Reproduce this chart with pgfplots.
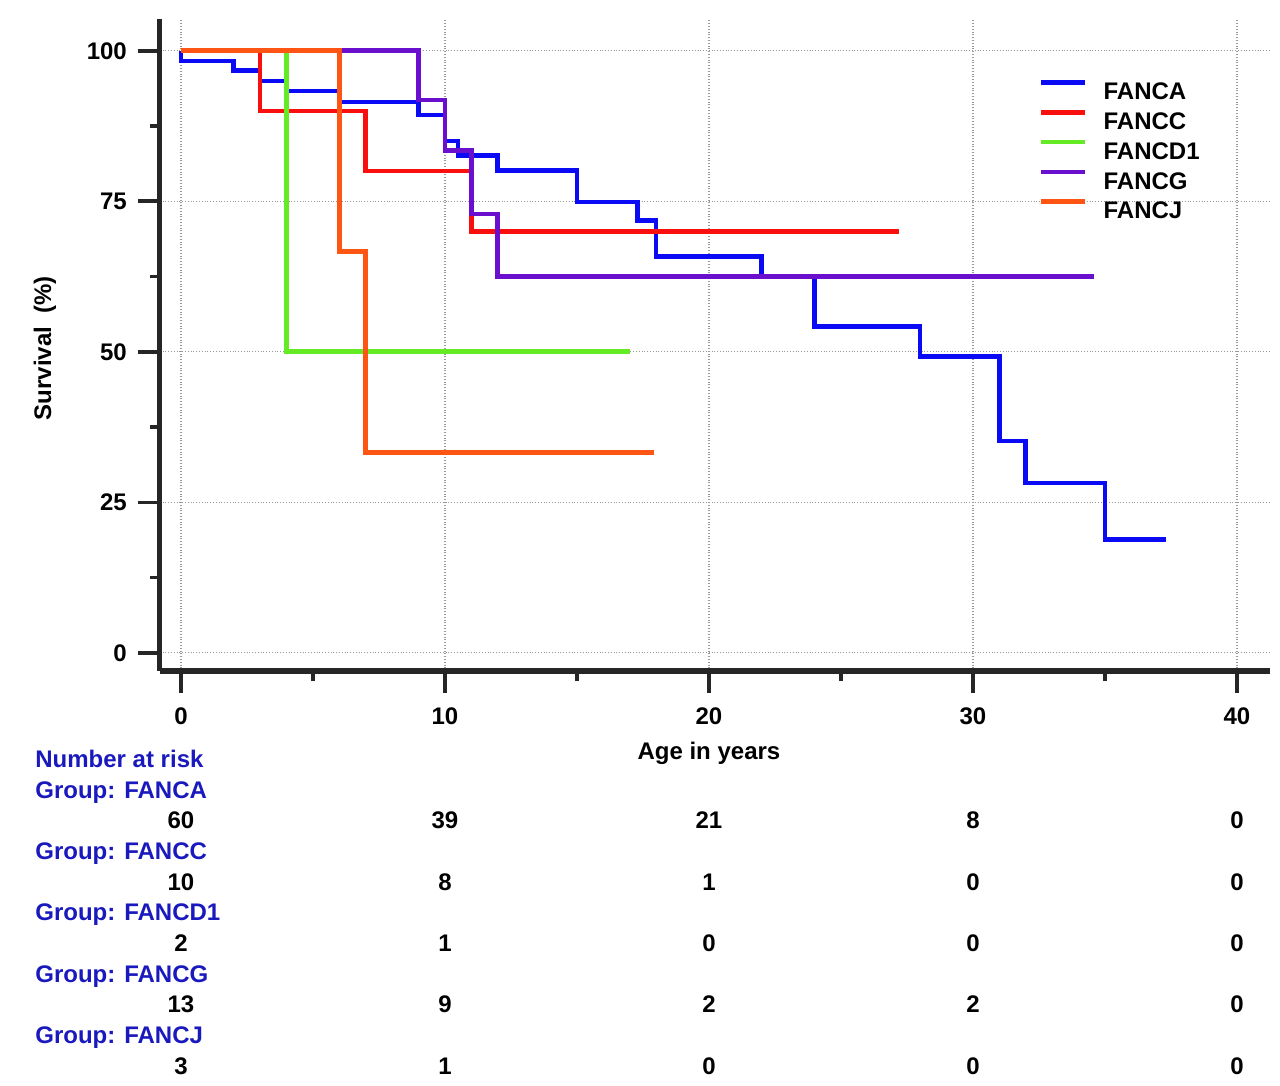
\documentclass[border=0pt]{standalone}
\usepackage{fontspec}
\setmainfont{Liberation Sans}
\usepackage{pgfplots}
\pgfplotsset{compat=1.18}

\definecolor{cA}{RGB}{10,10,245}
\definecolor{cC}{RGB}{250,15,15}
\definecolor{cD}{RGB}{100,235,35}
\definecolor{cG}{RGB}{105,15,205}
\definecolor{cJ}{RGB}{255,85,20}
\definecolor{hdr}{RGB}{25,25,190}
\newcommand{\lab}{\bfseries\fontsize{12}{14}\selectfont}

\begin{document}
\begin{tikzpicture}[font=\lab]
\begin{axis}[
  scale only axis, width=555pt, height=326pt,
  xmin=-0.8, xmax=41.25, ymin=-3, ymax=105.3,
  clip=false,
  axis x line*=bottom, axis y line*=left,
  axis line style={-, line width=2.6pt, black!85},
  xtick={0,10,20,30,40}, ytick={0,25,50,75,100},
  minor x tick num=1, minor y tick num=1,
  tick align=outside, major tick length=11pt, minor tick length=5pt,
  every tick/.style={line width=1.8pt, black!85},
  grid=major, major grid style={densely dotted, black!40, line width=0.6pt},
  /pgf/number format/assume math mode=true,
  tick label style={font=\lab},
  xticklabel style={yshift=-4pt},
  yticklabel style={xshift=-2pt},
  xlabel={Age in years},
  xlabel style={at={(axis description cs:0.4946,-0.127)}, anchor=center},
  ylabel={Survival\ \ (\%)},
  ylabel style={at={(axis description cs:-0.1036,0.495)}, anchor=center},
  legend style={at={(axis cs:32.5,95.1)}, anchor=north west, draw=none, fill=none,
    inner sep=0pt, outer sep=0pt, row sep=5.15pt, column sep=8pt,
    nodes={inner sep=0pt, text height=8.6pt, text depth=0pt}},
  legend cell align=left,
  legend image code/.code={\draw[#1] (0pt,4.3pt) -- (22pt,4.3pt);},
  every axis plot/.append style={line width=2.3pt, const plot},
]
\addplot[cA] coordinates {(0,100) (0,98.33) (2,96.67) (3,95) (4,93.33) (6,91.5) (9,89.3)
  (10,85.0) (10.5,82.6) (12,80.1) (15,74.9) (17.3,71.8) (18,65.85) (22,62.5)
  (24,54.2) (28,49.2) (31,35.2) (32,28.2) (35,18.8) (37.3,18.8)};
\addplot[cC] coordinates {(0,100) (3,90) (7,80) (11,70) (27.2,70)};
\addplot[cD] coordinates {(0,100) (4,50) (17,50)};
\addplot[cG] coordinates {(0,100) (9,91.8) (10,83.4) (11,72.9) (12,62.5) (34.6,62.5)};
\addplot[cJ] coordinates {(0,100) (6,66.7) (7,33.3) (17.9,33.3)};
\legend{FANCA,FANCC,FANCD1,FANCG,FANCJ}

% number at risk table
\begin{scope}[every node/.style={inner sep=0pt}]
\node[anchor=base west, text=hdr] at (axis cs:-5.53,-19.08) {Number at risk};
\node[anchor=base west, text=hdr] at (axis cs:-5.53,-24.16) {Group: FANCA};
\node[anchor=base west, text=hdr] at (axis cs:-5.53,-34.34) {Group: FANCC};
\node[anchor=base west, text=hdr] at (axis cs:-5.53,-44.52) {Group: FANCD1};
\node[anchor=base west, text=hdr] at (axis cs:-5.53,-54.70) {Group: FANCG};
\node[anchor=base west, text=hdr] at (axis cs:-5.53,-64.88) {Group: FANCJ};
% FANCA
\node[anchor=base] at (axis cs:0,-29.25) {60};
\node[anchor=base] at (axis cs:10,-29.25) {39};
\node[anchor=base] at (axis cs:20,-29.25) {21};
\node[anchor=base] at (axis cs:30,-29.25) {8};
\node[anchor=base] at (axis cs:40,-29.25) {0};
% FANCC
\node[anchor=base] at (axis cs:0,-39.43) {10};
\node[anchor=base] at (axis cs:10,-39.43) {8};
\node[anchor=base] at (axis cs:20,-39.43) {1};
\node[anchor=base] at (axis cs:30,-39.43) {0};
\node[anchor=base] at (axis cs:40,-39.43) {0};
% FANCD1
\node[anchor=base] at (axis cs:0,-49.61) {2};
\node[anchor=base] at (axis cs:10,-49.61) {1};
\node[anchor=base] at (axis cs:20,-49.61) {0};
\node[anchor=base] at (axis cs:30,-49.61) {0};
\node[anchor=base] at (axis cs:40,-49.61) {0};
% FANCG
\node[anchor=base] at (axis cs:0,-59.79) {13};
\node[anchor=base] at (axis cs:10,-59.79) {9};
\node[anchor=base] at (axis cs:20,-59.79) {2};
\node[anchor=base] at (axis cs:30,-59.79) {2};
\node[anchor=base] at (axis cs:40,-59.79) {0};
% FANCJ
\node[anchor=base] at (axis cs:0,-69.97) {3};
\node[anchor=base] at (axis cs:10,-69.97) {1};
\node[anchor=base] at (axis cs:20,-69.97) {0};
\node[anchor=base] at (axis cs:30,-69.97) {0};
\node[anchor=base] at (axis cs:40,-69.97) {0};
\end{scope}
% page size matching the reference
\path (axis cs:-6.856,108.43) rectangle (axis cs:41.63,-71.84);
\end{axis}
\end{tikzpicture}
\end{document}
